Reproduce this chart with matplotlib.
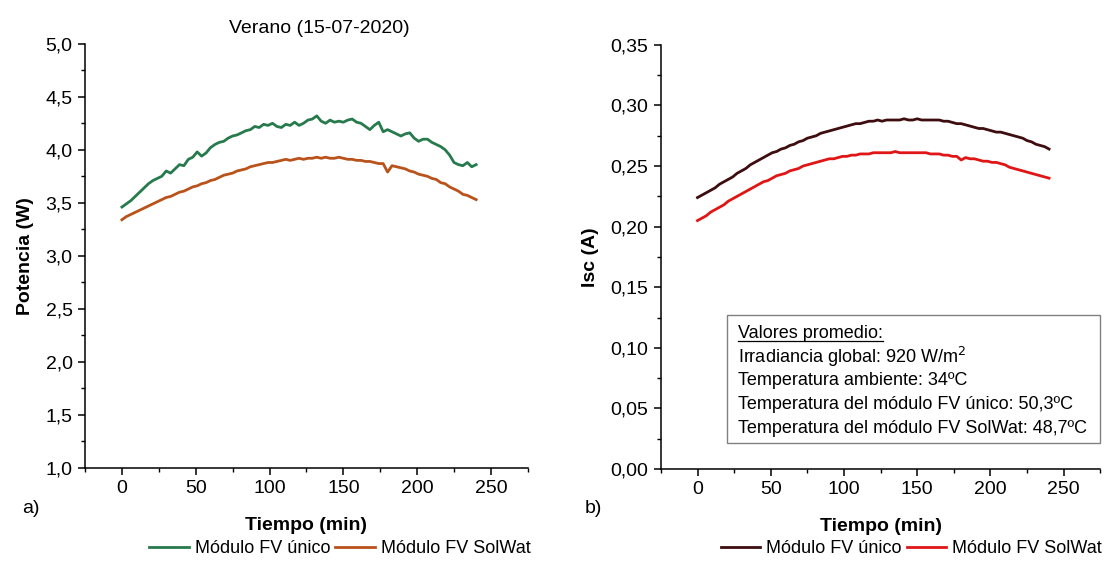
import matplotlib
matplotlib.use("Agg")
import matplotlib.pyplot as plt
from matplotlib.ticker import MultipleLocator, FuncFormatter
from matplotlib.lines import Line2D
from matplotlib.patches import Rectangle

plt.rcParams['font.family'] = ['Liberation Sans', 'DejaVu Sans']

# Tiempo (min), muestras cada 3 min
tiempo = list(range(0, 241, 3))

potencia_unico = [
    3.46, 3.49, 3.52, 3.56, 3.60, 3.64, 3.68, 3.71, 3.73, 3.75,
    3.80, 3.78, 3.82, 3.86, 3.85, 3.91, 3.93, 3.98, 3.94, 3.97,
    4.02, 4.05, 4.07, 4.08, 4.11, 4.13, 4.14, 4.16, 4.18, 4.19,
    4.22, 4.21, 4.24, 4.23, 4.25, 4.22, 4.21, 4.24, 4.23, 4.26,
    4.23, 4.25, 4.28, 4.29, 4.32, 4.27, 4.25, 4.28, 4.26, 4.27,
    4.26, 4.28, 4.29, 4.26, 4.25, 4.22, 4.19, 4.23, 4.26, 4.17,
    4.19, 4.17, 4.15, 4.13, 4.15, 4.16, 4.11, 4.08, 4.10, 4.10,
    4.07, 4.05, 4.03, 4.00, 3.95, 3.88, 3.86, 3.85, 3.88, 3.84,
    3.86,
]

potencia_solwat = [
    3.34, 3.37, 3.39, 3.41, 3.43, 3.45, 3.47, 3.49, 3.51, 3.53,
    3.55, 3.56, 3.58, 3.60, 3.61, 3.63, 3.65, 3.66, 3.68, 3.69,
    3.71, 3.72, 3.74, 3.76, 3.77, 3.78, 3.80, 3.81, 3.82, 3.84,
    3.85, 3.86, 3.87, 3.88, 3.88, 3.89, 3.90, 3.91, 3.90, 3.91,
    3.92, 3.91, 3.92, 3.92, 3.93, 3.92, 3.93, 3.92, 3.92, 3.93,
    3.92, 3.91, 3.91, 3.90, 3.90, 3.89, 3.89, 3.88, 3.87, 3.87,
    3.79, 3.85, 3.84, 3.83, 3.82, 3.80, 3.79, 3.77, 3.76, 3.75,
    3.73, 3.72, 3.69, 3.68, 3.65, 3.63, 3.61, 3.58, 3.57, 3.55,
    3.53,
]

isc_unico = [
    0.224, 0.226, 0.228, 0.230, 0.232, 0.235, 0.237, 0.239, 0.241, 0.244,
    0.246, 0.248, 0.251, 0.253, 0.255, 0.257, 0.259, 0.261, 0.262, 0.264,
    0.265, 0.267, 0.268, 0.270, 0.271, 0.273, 0.274, 0.275, 0.277, 0.278,
    0.279, 0.280, 0.281, 0.282, 0.283, 0.284, 0.285, 0.285, 0.286, 0.287,
    0.287, 0.288, 0.287, 0.288, 0.288, 0.288, 0.288, 0.289, 0.288, 0.288,
    0.289, 0.288, 0.288, 0.288, 0.288, 0.288, 0.287, 0.287, 0.286, 0.285,
    0.285, 0.284, 0.283, 0.282, 0.281, 0.281, 0.280, 0.279, 0.278, 0.278,
    0.277, 0.276, 0.275, 0.274, 0.273, 0.271, 0.270, 0.268, 0.267, 0.266,
    0.264,
]

isc_solwat = [
    0.205, 0.207, 0.209, 0.212, 0.214, 0.216, 0.218, 0.221, 0.223, 0.225,
    0.227, 0.229, 0.231, 0.233, 0.235, 0.237, 0.238, 0.240, 0.242, 0.243,
    0.244, 0.246, 0.247, 0.248, 0.250, 0.251, 0.252, 0.253, 0.254, 0.255,
    0.256, 0.256, 0.257, 0.258, 0.258, 0.259, 0.259, 0.260, 0.260, 0.260,
    0.261, 0.261, 0.261, 0.261, 0.261, 0.262, 0.261, 0.261, 0.261, 0.261,
    0.261, 0.261, 0.261, 0.260, 0.260, 0.260, 0.259, 0.259, 0.258, 0.258,
    0.255, 0.257, 0.256, 0.256, 0.255, 0.254, 0.254, 0.253, 0.253, 0.252,
    0.251, 0.249, 0.248, 0.247, 0.246, 0.245, 0.244, 0.243, 0.242, 0.241,
    0.240,
]

x_ticks = [0, 50, 100, 150, 200, 250]
serie_labels = ["Módulo FV único", "Módulo FV SolWat"]
info_titulo = "Valores promedio:"
info_lineas = [
    "Irradiancia global: 920 W/m$^2$",
    "Temperatura ambiente: 34ºC",
    "Temperatura del módulo FV único: 50,3ºC",
    "Temperatura del módulo FV SolWat: 48,7ºC",
]

TICK_FS = 14
LABEL_FS = 14
LEG_FS = 13

fig = plt.figure(figsize=(11.07, 5.61), dpi=100)
ax1 = fig.add_axes([0.0768, 0.166, 0.400, 0.756])
ax2 = fig.add_axes([0.597, 0.164, 0.397, 0.756])


def comma(decimals):
    return FuncFormatter(lambda v, p: f"{v:.{decimals}f}".replace(".", ","))


def style(ax, ymin, ymax, ymaj, dec):
    for s in ("top", "right"):
        ax.spines[s].set_visible(False)
    for s in ("left", "bottom"):
        ax.spines[s].set_linewidth(1.1)
    ax.set_xlim(-25, 275)
    ax.set_ylim(ymin, ymax)
    ax.set_xticks(x_ticks)
    ax.xaxis.set_minor_locator(MultipleLocator(25))
    ax.yaxis.set_major_locator(MultipleLocator(ymaj))
    ax.yaxis.set_minor_locator(MultipleLocator(ymaj / 2))
    ax.yaxis.set_major_formatter(comma(dec))
    ax.tick_params(which="major", direction="out", length=5, width=1.1,
                   labelsize=TICK_FS, pad=4)
    ax.tick_params(which="minor", direction="out", length=3, width=1.0)
    ax.set_xlabel("Tiempo (min)", fontsize=LABEL_FS, fontweight="bold", labelpad=14)


# Panel a) potencia
l1, = ax1.plot(tiempo, potencia_unico, color="#267a4c", lw=2.0)
l2, = ax1.plot(tiempo, potencia_solwat, color="#b9521b", lw=2.0)
style(ax1, 1.0, 5.0, 0.5, 1)
ax1.set_ylabel("Potencia (W)", fontsize=LABEL_FS, fontweight="bold", labelpad=8)
ax1.set_title("Verano (15-07-2020)", fontsize=TICK_FS, pad=8, x=0.53)

# Panel b) corriente de cortocircuito
l3, = ax2.plot(tiempo, isc_unico, color="#3d0d0f", lw=2.0)
l4, = ax2.plot(tiempo, isc_solwat, color="#e01616", lw=2.0)
style(ax2, 0.0, 0.35, 0.05, 2)
ax2.set_ylabel("Isc (A)", fontsize=LABEL_FS, fontweight="bold", labelpad=8)

fig.text(0.020, 0.094, "a)", fontsize=TICK_FS, ha="left", va="center")
fig.text(0.528, 0.094, "b)", fontsize=TICK_FS, ha="left", va="center")

leg_kw = dict(ncol=2, frameon=False, fontsize=LEG_FS, handlelength=2.2,
              handletextpad=0.3, columnspacing=0.3, loc="center")
fig.legend([l1, l2], serie_labels, bbox_to_anchor=(0.307, 0.022), **leg_kw)
fig.legend([l3, l4], serie_labels, bbox_to_anchor=(0.823, 0.022), **leg_kw)

# Recuadro con los valores promedio
box = Rectangle((0.657, 0.210), 0.337, 0.228, transform=fig.transFigure,
                facecolor="white", edgecolor="#808080", lw=1.0, zorder=5)
fig.add_artist(box)
y0 = 0.405
dy = 0.042
t_head = fig.text(0.667, y0, info_titulo, fontsize=LEG_FS, va="center", zorder=6)
for i, s in enumerate(info_lineas):
    fig.text(0.667, y0 - dy * (i + 1), s, fontsize=LEG_FS, va="center", zorder=6)

fig.canvas.draw()
bb = t_head.get_window_extent().transformed(fig.transFigure.inverted())
fig.add_artist(Line2D([bb.x0, bb.x1], [bb.y0 + 0.002, bb.y0 + 0.002],
                      transform=fig.transFigure, color="black", lw=0.9, zorder=6))

fig.savefig("out.png", dpi=100)
